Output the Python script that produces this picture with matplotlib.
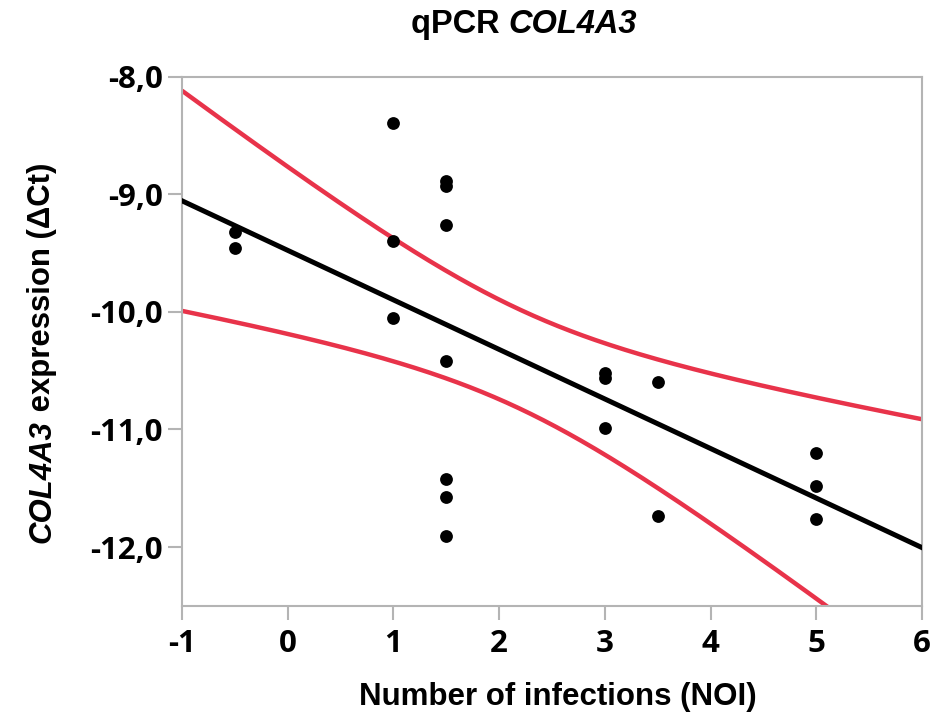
import numpy as np
import matplotlib
matplotlib.use("Agg")
import matplotlib.pyplot as plt

# Data
noi = [-0.5, -0.5, 1, 1, 1, 1.5, 1.5, 1.5, 1.5, 1.5, 1.5, 1.5,
       3, 3, 3, 3.5, 3.5, 5, 5, 5]
dct = [-9.32, -9.455, -8.39, -9.40, -10.05, -8.885, -8.93, -9.26, -10.42,
       -11.42, -11.57, -11.91, -10.52, -10.56, -10.99, -10.60, -11.74,
       -11.20, -11.48, -11.76]
xticks = [-1, 0, 1, 2, 3, 4, 5, 6]
xticklabels = ["-1", "0", "1", "2", "3", "4", "5", "6"]
yticks = [-8.0, -9.0, -10.0, -11.0, -12.0]
yticklabels = ["-8,0", "-9,0", "-10,0", "-11,0", "-12,0"]
t_crit = 2.101  # t(0.975, df=18)

x = np.array(noi)
y = np.array(dct)
n = len(x)
b1, b0 = np.polyfit(x, y, 1)
resid = y - (b0 + b1 * x)
s = np.sqrt(np.sum(resid**2) / (n - 2))
xbar = x.mean()
sxx = np.sum((x - xbar) ** 2)
xs = np.linspace(-1, 6, 300)
fit = b0 + b1 * xs
hw = t_crit * s * np.sqrt(1 / n + (xs - xbar) ** 2 / sxx)

W, H = 938, 717
fig = plt.figure(figsize=(W / 100, H / 100), dpi=100)
ax = fig.add_axes([0.194, 0.155, 0.789, 0.738])

red = "#e8334a"
ax.plot(xs, fit + hw, color=red, lw=3.2, solid_capstyle="butt", zorder=2)
ax.plot(xs, fit - hw, color=red, lw=3.2, solid_capstyle="butt", zorder=2)
ax.plot(xs, fit, color="black", lw=3.6, zorder=3)
ax.scatter(x, y, s=85, color="black", zorder=4, linewidths=0)

ax.set_xlim(-1, 6)
ax.set_ylim(-12.5, -8.0)
ax.set_xticks(xticks)
ax.set_xticklabels(xticklabels)
ax.set_yticks(yticks)
ax.set_yticklabels(yticklabels)
for sp in ax.spines.values():
    sp.set_color("#b4b4b4")
    sp.set_linewidth(1.5)
ax.tick_params(axis="both", color="#b4b4b4", width=1.5, length=10,
               labelsize=22.5)
ax.tick_params(axis="x", pad=7)
ax.tick_params(axis="y", pad=4)
for lab in ax.get_xticklabels() + ax.get_yticklabels():
    lab.set_fontweight("bold")
    lab.set_fontfamily("Open Sans")

FAM = "Liberation Sans"

# x label
fig.text(557.5 / W, 1 - 705 / H, "Number of infections (NOI)",
         fontsize=22.5, fontweight="bold", family=FAM,
         ha="center", va="baseline")

renderer = fig.canvas.get_renderer()

# y label: italic gene name + bold text, rotated, sharing one baseline
yl_fs = 22.4
base_x = 50 / W
start_y = 543  # pixel row where the label starts (bottom)
t1 = fig.text(base_x, 1 - start_y / H, "COL4A3", fontsize=yl_fs,
              fontweight="bold", style="italic", family=FAM, rotation=90,
              rotation_mode="anchor", ha="left", va="baseline")
h1 = t1.get_window_extent(renderer).height
fig.text(base_x, 1 - (start_y - h1) / H, "\u00a0expression (ΔCt)",
         fontsize=yl_fs, fontweight="bold", family=FAM, rotation=90,
         rotation_mode="anchor", ha="left", va="baseline")

# title: "qPCR " bold + "COL4A3" bold italic, centred
ti_fs = 23.5
tmp1 = fig.text(0, 0, "qPCR\u00a0", fontsize=ti_fs, fontweight="bold",
                family=FAM, ha="left", va="baseline")
tmp2 = fig.text(0, 0, "COL4A3", fontsize=ti_fs, fontweight="bold",
                style="italic", family=FAM, ha="left", va="baseline")
w1 = tmp1.get_window_extent(renderer).width
w2 = tmp2.get_window_extent(renderer).width
left = 524 - (w1 + w2) / 2
tmp1.set_position((left / W, 1 - 33 / H))
tmp2.set_position(((left + w1) / W, 1 - 33 / H))

fig.savefig("out.png", dpi=100)
